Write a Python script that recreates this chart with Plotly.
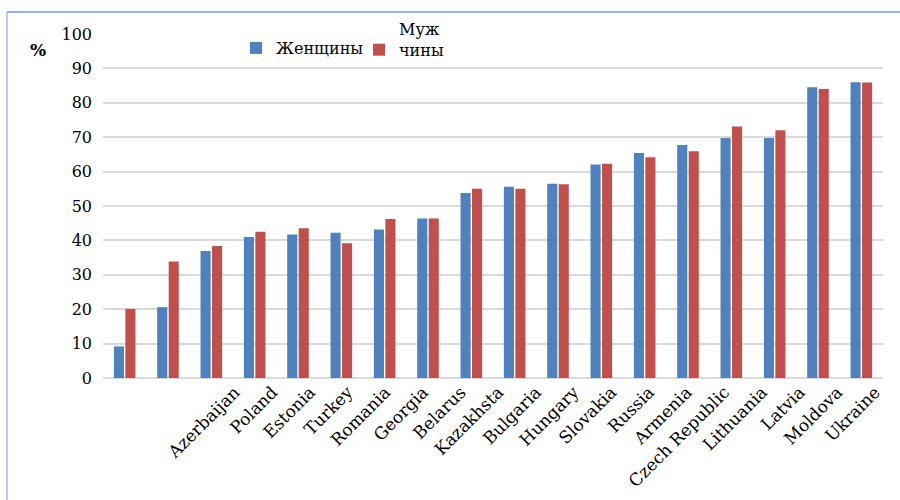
import plotly.graph_objects as go

# Share of population (%) by country, women vs men
countries = ["Azerbaijan", "Poland", "Estonia", "Turkey", "Romania", "Georgia",
             "Belarus", "Kazakhsta", "Bulgaria", "Hungary", "Slovakia", "Russia",
             "Armenia", "Czech Republic", "Lithuania", "Latvia", "Moldova", "Ukraine"]
women = [9.2, 20.6, 36.9, 41.0, 41.7, 42.2, 43.2, 46.4, 53.8, 55.6,
         56.5, 62.1, 65.4, 67.7, 69.8, 69.8, 84.5, 86.0]
men = [20.1, 33.9, 38.4, 42.5, 43.5, 39.2, 46.2, 46.4, 55.0, 55.0,
       56.3, 62.3, 64.2, 65.9, 73.1, 72.0, 84.0, 85.9]
y_ticks = list(range(0, 101, 10))

BLUE = "#4f81bd"
RED = "#c0504d"
FONT = "DejaVu Serif"

W, H = 900, 500
L, R, T, B = 103, 0, 34, 122
PW, PH = W - L - R, H - T - B


def px_x(p):
    return (p - L) / PW


def px_y(p):
    return (H - B - p) / PH


fig = go.Figure()
fig.add_trace(go.Bar(x=countries, y=women, name="Женщины", legend="legend",
                     marker=dict(color=BLUE, line=dict(width=0))))
fig.add_trace(go.Bar(x=countries, y=men, name="Муж<br>чины", legend="legend2",
                     marker=dict(color=RED, line=dict(width=0))))
# carrier trace for the rotated country labels on the secondary axis
fig.add_trace(go.Scatter(x=countries, y=[0] * len(countries), xaxis="x2", yaxis="y2",
                         mode="markers", marker=dict(opacity=0),
                         showlegend=False, hoverinfo="skip"))

legend_font = dict(family=FONT, size=16, color="#000000")

fig.update_layout(
    width=W, height=H,
    margin=dict(l=L, r=R, t=T, b=B),
    paper_bgcolor="white", plot_bgcolor="rgba(0,0,0,0)",
    font=dict(family=FONT, color="#000000"),
    barmode="group", bargap=0.47, bargroupgap=0.12,
    xaxis=dict(domain=[0, px_x(883)], showticklabels=False, showgrid=False,
               zeroline=False, showline=False, ticks=""),
    xaxis2=dict(domain=[px_x(216), px_x(894)], anchor="y2", showgrid=False,
                zeroline=False, showline=False, ticks="", tickangle=-45,
                range=[-0.5, len(countries) - 0.5],
                tickfont=dict(family=FONT, size=17, color="#000000")),
    yaxis=dict(range=[0, 100], tickvals=y_ticks, showgrid=True,
               gridcolor="#d9d9d9", gridwidth=1.5, zeroline=True,
               zerolinecolor="#d9d9d9", zerolinewidth=1.5, showline=False,
               ticks="", ticklabelstandoff=10,
               tickfont=dict(family=FONT, size=16, color="#000000")),
    yaxis2=dict(domain=[0, 1], anchor="x2", range=[0, 1], visible=False),
    legend=dict(orientation="h", x=px_x(236), y=px_y(31), xanchor="left",
                yanchor="top", font=legend_font, bgcolor="rgba(0,0,0,0)",
                itemwidth=30),
    legend2=dict(orientation="h", x=px_x(359), y=px_y(12), xanchor="left",
                 yanchor="top", font=legend_font, bgcolor="rgba(0,0,0,0)",
                 itemwidth=30, valign="bottom"),
    showlegend=True,
)

fig.add_annotation(text="<b>%</b>", x=px_x(38), y=px_y(50), xref="paper", yref="paper",
                   xanchor="center", yanchor="middle", showarrow=False,
                   font=dict(family=FONT, size=17, color="#000000"))

# frame lines along the top and left edges
fig.add_shape(type="line", xref="paper", yref="paper", x0=px_x(7), x1=px_x(900),
              y0=px_y(12), y1=px_y(12), line=dict(color="#6f98da", width=1.5))
fig.add_shape(type="line", xref="paper", yref="paper", x0=px_x(7), x1=px_x(7),
              y0=px_y(12), y1=px_y(500), line=dict(color="#9db9e6", width=1.5))

fig.write_html("out.html")
